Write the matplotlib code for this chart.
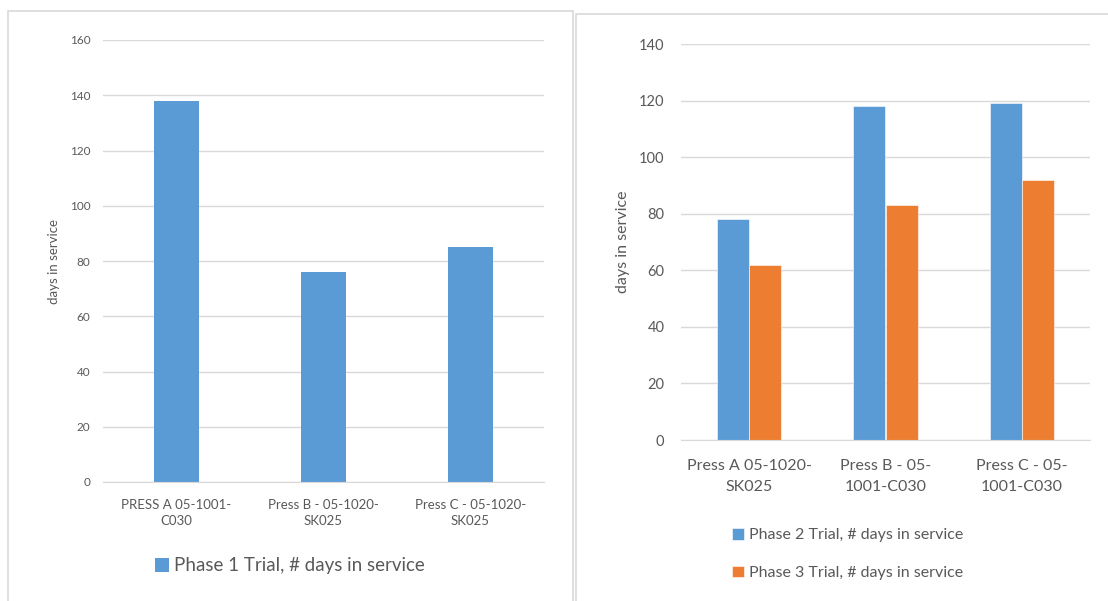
import matplotlib.pyplot as plt
import numpy as np
from matplotlib.patches import Rectangle

plt.rcParams['font.family'] = ['Lato', 'DejaVu Sans']

# chart 1 data
cats1 = ['PRESS A 05-1001-\nC030', 'Press B - 05-1020-\nSK025', 'Press C - 05-1020-\nSK025']
phase1 = [138, 76, 85]

# chart 2 data
cats2 = ['Press A 05-1020-\nSK025', 'Press B - 05-\n1001-C030', 'Press C - 05-\n1001-C030']
phase2 = [78, 118, 119]
phase3 = [62, 83, 92]

blue = '#5B9BD5'
orange = '#ED7D31'
txt = '#595959'
grid = '#D9D9D9'

W, H = 1108, 601
fig = plt.figure(figsize=(W / 100, H / 100), dpi=100)


def frac(x0, y0, x1, y1):
    # pixel box (top-left origin) -> figure fraction rect
    return [x0 / W, 1 - y1 / H, (x1 - x0) / W, (y1 - y0) / H]


# chart borders
fig.patches.append(Rectangle((8 / W, -0.01), (573 - 8) / W, 1 - 11 / H + 0.01,
                             transform=fig.transFigure, fill=False, ec='#D9D9D9', lw=1.2))
fig.patches.append(Rectangle((576 / W, -0.01), 0.5, 1 - 14 / H + 0.01,
                             transform=fig.transFigure, fill=False, ec='#D9D9D9', lw=1.2))


def style(ax, ymax, step, tsize, pad):
    ax.set_ylim(0, ymax)
    ax.set_xlim(-0.5, 2.5)
    ax.set_yticks(np.arange(0, ymax + 1, step))
    ax.yaxis.grid(True, color=grid, lw=1)
    ax.set_axisbelow(True)
    for s in ['top', 'right', 'left']:
        ax.spines[s].set_visible(False)
    ax.spines['bottom'].set_color(grid)
    ax.tick_params(axis='y', length=0, labelcolor=txt, labelsize=tsize, pad=pad)
    ax.tick_params(axis='x', length=0, labelcolor=txt)


# left chart
ax1 = fig.add_axes(frac(103, 40, 544, 482))
x = np.arange(len(cats1))
b1 = ax1.bar(x, phase1, width=0.31, color=blue, label='Phase 1 Trial, # days in service')
style(ax1, 160, 20, 8.5, 9)
ax1.set_xticks(x)
ax1.set_xticklabels(cats1, fontsize=9.5, linespacing=1.4)
ax1.tick_params(axis='x', pad=12.5)
ax1.set_ylabel('days in service', color=txt, fontsize=9.5)
ax1.yaxis.set_label_coords(-0.098, 0.5)
fig.legend(handles=[b1], loc='center', bbox_to_anchor=(290 / W, 1 - 566 / H), frameon=False,
           fontsize=13.5, labelcolor=txt, handlelength=0.75, handleheight=0.75, handletextpad=0.3)

# right chart
ax2 = fig.add_axes(frac(681, 44, 1090, 440))
x = np.arange(len(cats2))
bw = 0.235
b2 = ax2.bar(x - bw / 2, phase2, width=bw, color=blue, ec='white', lw=0.4,
             label='Phase 2 Trial, # days in service')
b3 = ax2.bar(x + bw / 2, phase3, width=bw, color=orange, ec='white', lw=0.4,
             label='Phase 3 Trial, # days in service')
style(ax2, 140, 20, 10.5, 12)
ax2.set_xticks(x)
ax2.set_xticklabels(cats2, fontsize=11.5, linespacing=1.6)
ax2.tick_params(axis='x', pad=14)
ax2.set_ylabel('days in service', color=txt, fontsize=11.5)
ax2.yaxis.set_label_coords(-0.125, 0.5)
fig.legend(handles=[b2, b3], loc='center', bbox_to_anchor=(848 / W, 1 - 554 / H), frameon=False,
           fontsize=11.5, labelcolor=txt, handlelength=0.75, handleheight=0.75, handletextpad=0.3,
           labelspacing=1.45)

fig.savefig('out.png', dpi=100)
